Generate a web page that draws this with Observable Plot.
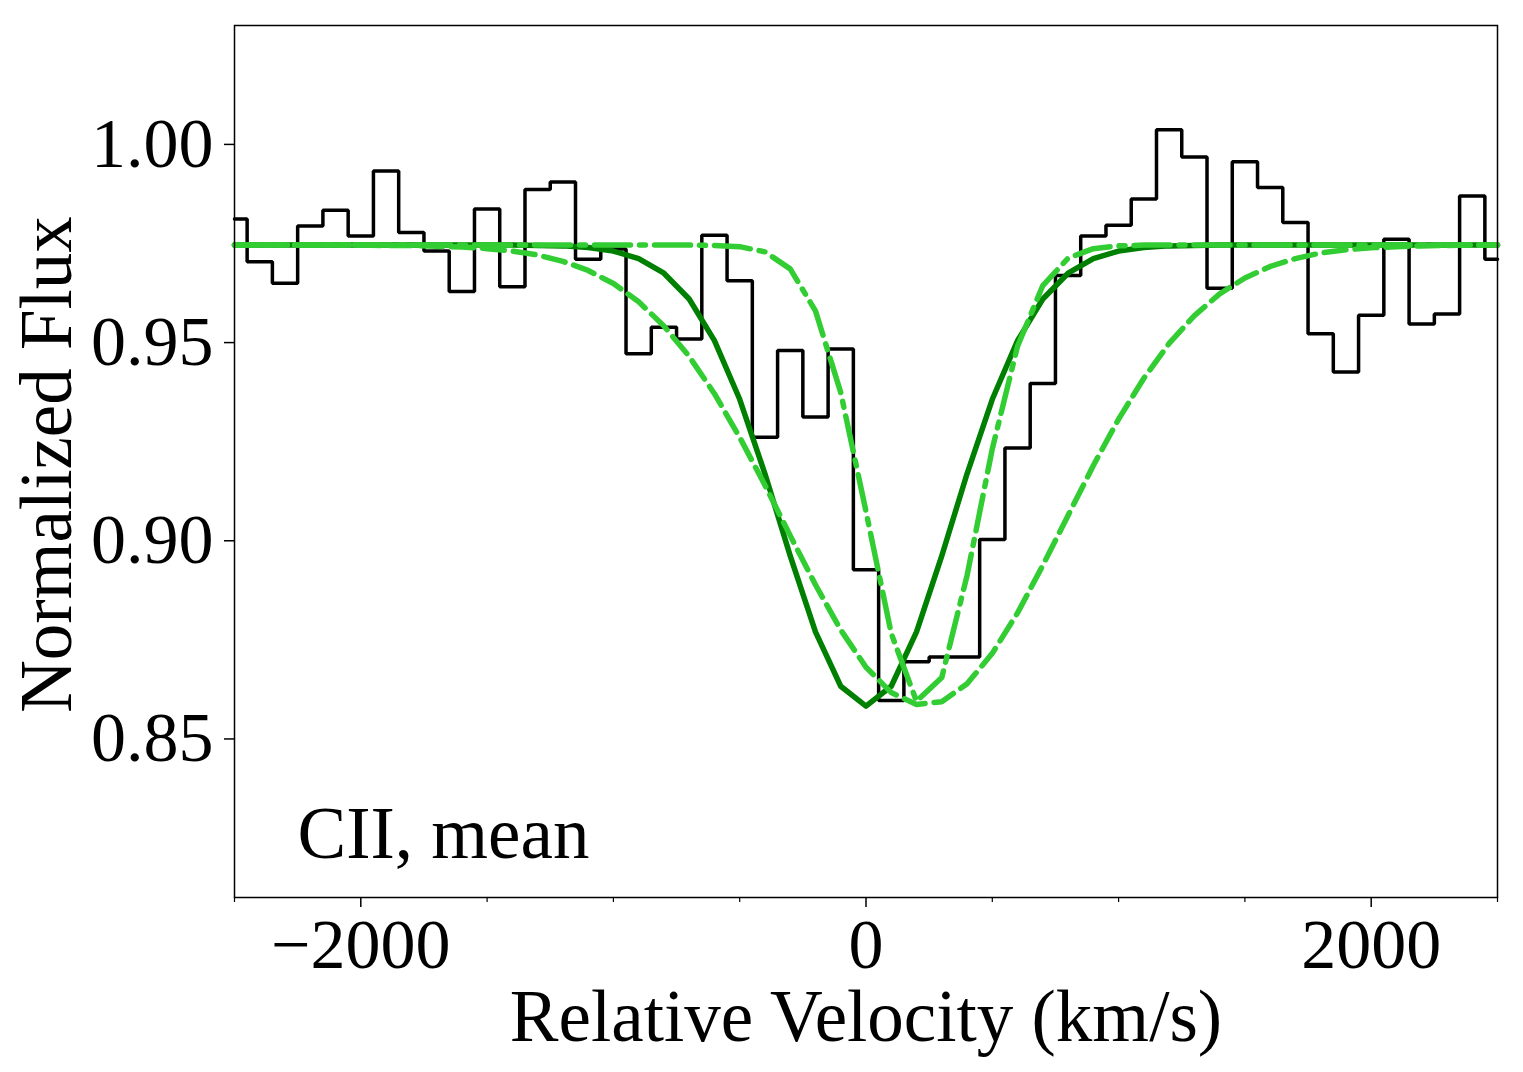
<!DOCTYPE html>
<html>
<head>
<meta charset="utf-8">
<script src="https://cdn.jsdelivr.net/npm/d3@7"></script>
<script src="https://cdn.jsdelivr.net/npm/@observablehq/plot@0.6"></script>
<style>
  html, body { margin: 0; padding: 0; background: #fff; }
</style>
</head>
<body>
<div id="chart"></div>
<script>
// Velocity grid of the stacked CII spectrum (km/s)
const velocity = [
  -2500, -2400, -2300, -2200, -2100, -2000, -1900, -1800, -1700, -1600,
  -1500, -1400, -1300, -1200, -1100, -1000, -900, -800, -700, -600,
  -500, -400, -300, -200, -100, 0, 100, 200, 300, 400,
  500, 600, 700, 800, 900, 1000, 1100, 1200, 1300, 1400,
  1500, 1600, 1700, 1800, 1900, 2000, 2100, 2200, 2300, 2400, 2500
];

// Mean normalized flux (drawn as a mid-step histogram)
const flux = [
  0.9812, 0.9704, 0.9650, 0.9794, 0.9834, 0.9769, 0.9933, 0.9778, 0.9731, 0.9629,
  0.9837, 0.9641, 0.9886, 0.9905, 0.9710, 0.9736, 0.9472, 0.9539, 0.9509, 0.9771,
  0.9656, 0.9261, 0.9480, 0.9312, 0.9484, 0.8927, 0.8597, 0.8695, 0.8707, 0.8707,
  0.9003, 0.9234, 0.9397, 0.9669, 0.9769, 0.9796, 0.9862, 1.0037, 0.9968, 0.9637,
  0.9956, 0.9891, 0.9803, 0.9522, 0.9426, 0.9569, 0.9761, 0.9547, 0.9572, 0.9870, 0.9710
];

// Absorption model centred on the systemic velocity (solid, dark green)
const modelSolid = [
  0.9746, 0.9746, 0.9746, 0.9746, 0.9746, 0.9746, 0.9746, 0.9746, 0.9746, 0.9746,
  0.9746, 0.9746, 0.9745, 0.9744, 0.9740, 0.9731, 0.9712, 0.9675, 0.9610, 0.9505,
  0.9357, 0.9169, 0.8962, 0.8770, 0.8633, 0.8583, 0.8633, 0.8770, 0.8962, 0.9169,
  0.9357, 0.9505, 0.9610, 0.9675, 0.9712, 0.9731, 0.9740, 0.9744, 0.9745, 0.9746,
  0.9746, 0.9746, 0.9746, 0.9746, 0.9746, 0.9746, 0.9746, 0.9746, 0.9746, 0.9746, 0.9746
];

// Broad redshifted model (dashed, light green)
const modelDashed = [
  0.9746, 0.9746, 0.9746, 0.9746, 0.9746, 0.9746, 0.9745, 0.9745, 0.9743, 0.9741,
  0.9737, 0.9731, 0.9721, 0.9705, 0.9682, 0.9649, 0.9603, 0.9542, 0.9465, 0.9371,
  0.9261, 0.9140, 0.9013, 0.8889, 0.8775, 0.8681, 0.8617, 0.8587, 0.8594, 0.8639,
  0.8716, 0.8818, 0.8938, 0.9064, 0.9190, 0.9307, 0.9410, 0.9498, 0.9568, 0.9623,
  0.9663, 0.9692, 0.9712, 0.9726, 0.9734, 0.9739, 0.9742, 0.9744, 0.9745, 0.9746, 0.9746
];

// Narrow redshifted model (dash-dot, light green)
const modelDashDot = [
  0.9746, 0.9746, 0.9746, 0.9746, 0.9746, 0.9746, 0.9746, 0.9746, 0.9746, 0.9746,
  0.9746, 0.9746, 0.9746, 0.9746, 0.9746, 0.9746, 0.9746, 0.9746, 0.9746, 0.9745,
  0.9742, 0.9729, 0.9686, 0.9580, 0.9374, 0.9074, 0.8766, 0.8595, 0.8655, 0.8912,
  0.9232, 0.9491, 0.9644, 0.9713, 0.9737, 0.9744, 0.9746, 0.9746, 0.9746, 0.9746,
  0.9746, 0.9746, 0.9746, 0.9746, 0.9746, 0.9746, 0.9746, 0.9746, 0.9746, 0.9746, 0.9746
];

const xMajorTicks = [-2000, 0, 2000];
const xMinorTicks = [-2500, -1500, -1000, -500, 500, 1000, 1500, 2500];
const yTicks = [0.85, 0.90, 0.95, 1.00];

const xLabel = "Relative Velocity (km/s)";
const yLabel = "Normalized Flux";
const panelLabel = "CII, mean";

const rows = velocity.map((v, i) => ({
  v,
  flux: flux[i],
  solid: modelSolid[i],
  dashed: modelDashed[i],
  dashdot: modelDashDot[i]
}));

const serif = "'Liberation Serif', 'Times New Roman', Times, serif";
const fmtX = d => (d < 0 ? "\u2212" + Math.abs(d) : String(d));
const fmtY = d3.format(".2f");

const chart = Plot.plot({
  width: 1523,
  height: 1072,
  marginLeft: 234,
  marginRight: 26,
  marginTop: 25,
  marginBottom: 175,
  style: { fontFamily: serif, background: "#fff", color: "#000", overflow: "visible" },
  x: { domain: [-2500, 2500] },
  y: { domain: [0.81, 1.03] },
  marks: [
    Plot.line(rows, { x: "v", y: "flux", curve: "step", stroke: "black", strokeWidth: 3.5, strokeLinejoin: "miter" }),
    Plot.line(rows, { x: "v", y: "solid", stroke: "green", strokeWidth: 5.5, strokeLinejoin: "round" }),
    Plot.line(rows, { x: "v", y: "dashed", stroke: "limegreen", strokeWidth: 5.5, strokeDasharray: "22,9", strokeLinejoin: "round" }),
    Plot.line(rows, { x: "v", y: "dashdot", stroke: "limegreen", strokeWidth: 5.5, strokeDasharray: "36,9,6,9", strokeLinejoin: "round" }),
    Plot.frame({ stroke: "black", strokeWidth: 1.5 }),
    Plot.axisX({ ticks: xMajorTicks, tickSize: 10, tickPadding: 11, tickFormat: fmtX, fontSize: 70, strokeWidth: 1.5, label: null }),
    Plot.axisX({ ticks: xMinorTicks, tickSize: 5, tickFormat: () => "", strokeWidth: 1.2, label: null }),
    Plot.axisY({ ticks: yTicks, tickSize: 10, tickPadding: 11, tickFormat: fmtY, fontSize: 70, strokeWidth: 1.5, label: null }),
    Plot.text([xLabel], { text: d => d, frameAnchor: "bottom", dy: 143, textAnchor: "middle", lineAnchor: "bottom", fontSize: 73, fill: "black" }),
    Plot.text([yLabel], { text: d => d, frameAnchor: "left", dx: -164, dy: 3, rotate: -90, textAnchor: "middle", lineAnchor: "bottom", fontSize: 73, fill: "black" }),
    Plot.text([panelLabel], { text: d => d, frameAnchor: "bottom-left", dx: 63, dy: -40, textAnchor: "start", lineAnchor: "bottom", fontSize: 73, fill: "black" })
  ]
});

document.getElementById("chart").appendChild(chart);
</script>
</body>
</html>
